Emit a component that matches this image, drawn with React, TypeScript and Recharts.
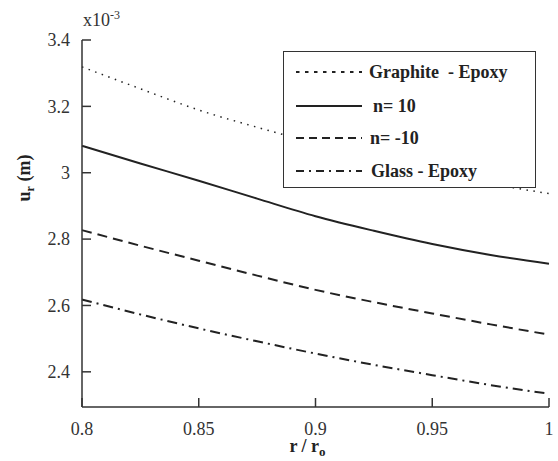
import React from 'react';
import { LineChart, Line, XAxis, YAxis } from 'recharts';

// r / r_o sample positions
const rValues = [0.8, 0.825, 0.85, 0.875, 0.9, 0.925, 0.95, 0.975, 1.0];

// radial displacement u_r, in units of 1e-3 m
const graphiteEpoxy = [3.319, 3.253, 3.189, 3.137, 3.089, 3.044, 3.003, 2.967, 2.937];
const nPlus10 = [3.081, 3.028, 2.976, 2.922, 2.869, 2.825, 2.785, 2.752, 2.726];
const nMinus10 = [2.827, 2.78, 2.735, 2.69, 2.647, 2.61, 2.576, 2.543, 2.512];
const glassEpoxy = [2.618, 2.573, 2.531, 2.492, 2.455, 2.421, 2.39, 2.36, 2.334];

const xTicks = [0.8, 0.85, 0.9, 0.95, 1];
const yTicks = [2.4, 2.6, 2.8, 3, 3.2, 3.4];

const series = [
  { key: 'graphite', name: 'Graphite  - Epoxy', dash: '1.5 5.5', legendDash: '3.5 5.5' },
  { key: 'np10', name: 'n= 10', dash: '', legendDash: '' },
  { key: 'nm10', name: 'n= -10', dash: '10 6', legendDash: '8 5' },
  { key: 'glass', name: 'Glass - Epoxy', dash: '10 5 2 5', legendDash: '8 5 2 5' },
];

const data = rValues.map((r, i) => ({
  r,
  graphite: graphiteEpoxy[i],
  np10: nPlus10[i],
  nm10: nMinus10[i],
  glass: glassEpoxy[i],
}));

const INK = '#222';
const FONT = '"Liberation Serif", "Times New Roman", serif';
const tickStyle = { fontFamily: FONT, fontSize: 18, fill: '#333' };
const axisLineStyle = { stroke: '#333', strokeWidth: 1.5 };

function LegendBox() {
  return (
    <div
      style={{
        position: 'absolute',
        left: 283,
        top: 51,
        width: 251,
        height: 135,
        border: '1.5px solid #333',
        background: '#fff',
        fontFamily: FONT,
        fontWeight: 'bold',
        fontSize: 18,
        color: '#222',
      }}
    >
      {series.map((s, i) => (
        <div
          key={s.key}
          style={{
            position: 'absolute',
            left: 12,
            top: [8, 42, 74, 107][i],
            height: 24,
            display: 'flex',
            alignItems: 'center',
            whiteSpace: 'pre',
          }}
        >
          <svg width={66} height={10} style={{ marginRight: [7, 11, 8, 9][i] }}>
            <line x1={0} y1={5} x2={66} y2={5} stroke={INK} strokeWidth={2} strokeDasharray={s.legendDash} />
          </svg>
          <span>{s.name}</span>
        </div>
      ))}
    </div>
  );
}

function XTitle(props: any) {
  const vb = props.viewBox;
  return (
    <text
      x={vb.x + vb.width / 2 - 8}
      y={452}
      textAnchor="middle"
      fontFamily={FONT}
      fontWeight="bold"
      fontSize={18}
      fill="#222"
    >
      r / r
      <tspan fontSize={13} dy={4}>o</tspan>
    </text>
  );
}

export default function App() {
  return (
    <div style={{ position: 'relative', width: 558, height: 461, background: '#fff', overflow: 'hidden' }}>
      <style>{'html, body { margin: 0; padding: 0; overflow: hidden; }'}</style>
      <LineChart width={558} height={461} data={data} margin={{ top: 40, right: 9, bottom: 0, left: 0 }}>
        <XAxis
          dataKey="r"
          type="number"
          domain={[0.8, 1]}
          ticks={xTicks}
          height={54}
          tickSize={-9}
          tickMargin={24}
          tick={tickStyle}
          axisLine={axisLineStyle}
          tickLine={axisLineStyle}
          label={{ content: <XTitle /> }}
        />
        <XAxis
          xAxisId="top"
          orientation="top"
          dataKey="r"
          type="number"
          domain={[0.8, 1]}
          ticks={xTicks}
          height={0}
          tickSize={-9}
          tick={false}
          axisLine={axisLineStyle}
          tickLine={axisLineStyle}
        />
        <YAxis
          type="number"
          domain={[2.294, 3.4]}
          allowDataOverflow
          ticks={yTicks}
          width={82}
          tickSize={-9}
          tickMargin={21}
          tick={tickStyle}
          axisLine={axisLineStyle}
          tickLine={axisLineStyle}
        />
        <YAxis
          yAxisId="right"
          orientation="right"
          type="number"
          domain={[2.294, 3.4]}
          allowDataOverflow
          ticks={yTicks}
          width={0}
          tickSize={-9}
          tick={false}
          axisLine={axisLineStyle}
          tickLine={axisLineStyle}
        />
        {series.map((s) => (
          <Line
            key={s.key}
            dataKey={s.key}
            name={s.name}
            type="monotone"
            stroke={INK}
            strokeWidth={s.dash === '1.5 5.5' ? 1.5 : 2}
            strokeDasharray={s.dash || undefined}
            dot={false}
            activeDot={false}
            isAnimationActive={false}
          />
        ))}
      </LineChart>
      <LegendBox />
      <div
        style={{
          position: 'absolute',
          left: 83,
          top: 8,
          fontFamily: FONT,
          fontSize: 18,
          color: '#333',
          lineHeight: '24px',
        }}
      >
        x10<sup style={{ fontSize: 12, verticalAlign: 7, lineHeight: 0 }}>-3</sup>
      </div>
      <div
        style={{
          position: 'absolute',
          left: 24,
          top: 178,
          transform: 'translate(-50%, -50%) rotate(-90deg)',
          fontFamily: FONT,
          fontWeight: 'bold',
          fontSize: 18,
          color: '#222',
          whiteSpace: 'nowrap',
        }}
      >
        u<sub style={{ fontSize: 12, lineHeight: 0 }}>r</sub> (m)
      </div>
    </div>
  );
}
